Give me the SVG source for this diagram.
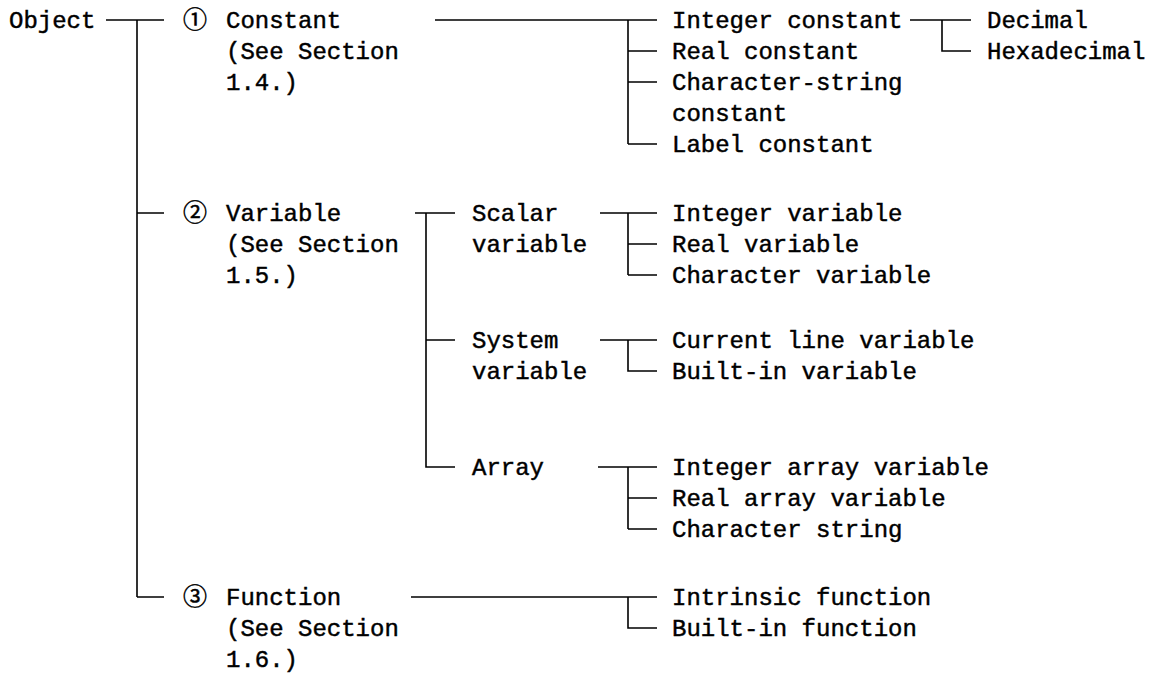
<svg xmlns="http://www.w3.org/2000/svg" width="1161" height="676" viewBox="0 0 1161 676">
<style>
text{font-family:"Liberation Mono","DejaVu Sans Mono",monospace;font-size:24px;fill:#000;stroke:#000;stroke-width:0.45}
.c{font-family:"Noto Sans CJK JP","DejaVu Sans",sans-serif;font-size:24px;stroke-width:0.5}
#connectors path{fill:none;stroke:#000;stroke-width:1.6}
</style>
<rect width="1161" height="676" fill="#fff"/>
<g id="connectors">
<path d="M106 20H164M137 20V597M137 213H164M137 597H164"/>
<path d="M435 20H657M628 20V144M628 51H657M628 82H657M628 144H657"/>
<path d="M910 20H971M942 20V51H971"/>
<path d="M415 213H455M426 213V467H455M426 340H455"/>
<path d="M600 213H657M628 213V275M628 244H657M628 275H657"/>
<path d="M600 340H657M628 340V371H657"/>
<path d="M598 467H657M628 467V529M628 498H657M628 529H657"/>
<path d="M411 597H657M628 597V628H657"/>
</g>
<g id="object"><text x="9" y="28">Object</text></g>
<g id="constant"><text class="c" x="183" y="28">①</text><text x="226" y="28">Constant</text><text x="226" y="59">(See Section</text><text x="226" y="90">1.4.)</text></g>
<g id="integer-constant"><text x="672" y="28">Integer constant</text></g>
<g id="decimal"><text x="987" y="28">Decimal</text></g>
<g id="hexadecimal"><text x="987" y="59">Hexadecimal</text></g>
<g id="real-constant"><text x="672" y="59">Real constant</text></g>
<g id="character-string-constant"><text x="672" y="90">Character-string</text><text x="672" y="121">constant</text></g>
<g id="label-constant"><text x="672" y="152">Label constant</text></g>
<g id="variable"><text class="c" x="183" y="221">②</text><text x="226" y="221">Variable</text><text x="226" y="252">(See Section</text><text x="226" y="283">1.5.)</text></g>
<g id="scalar-variable"><text x="472" y="221">Scalar</text><text x="472" y="252">variable</text></g>
<g id="integer-variable"><text x="672" y="221">Integer variable</text></g>
<g id="real-variable"><text x="672" y="252">Real variable</text></g>
<g id="character-variable"><text x="672" y="283">Character variable</text></g>
<g id="system-variable"><text x="472" y="348">System</text><text x="472" y="379">variable</text></g>
<g id="current-line-variable"><text x="672" y="348">Current line variable</text></g>
<g id="built-in-variable"><text x="672" y="379">Built-in variable</text></g>
<g id="array"><text x="472" y="475">Array</text></g>
<g id="integer-array-variable"><text x="672" y="475">Integer array variable</text></g>
<g id="real-array-variable"><text x="672" y="506">Real array variable</text></g>
<g id="character-string"><text x="672" y="537">Character string</text></g>
<g id="function"><text class="c" x="183" y="605">③</text><text x="226" y="605">Function</text><text x="226" y="636">(See Section</text><text x="226" y="667">1.6.)</text></g>
<g id="intrinsic-function"><text x="672" y="605">Intrinsic function</text></g>
<g id="built-in-function"><text x="672" y="636">Built-in function</text></g>
</svg>
